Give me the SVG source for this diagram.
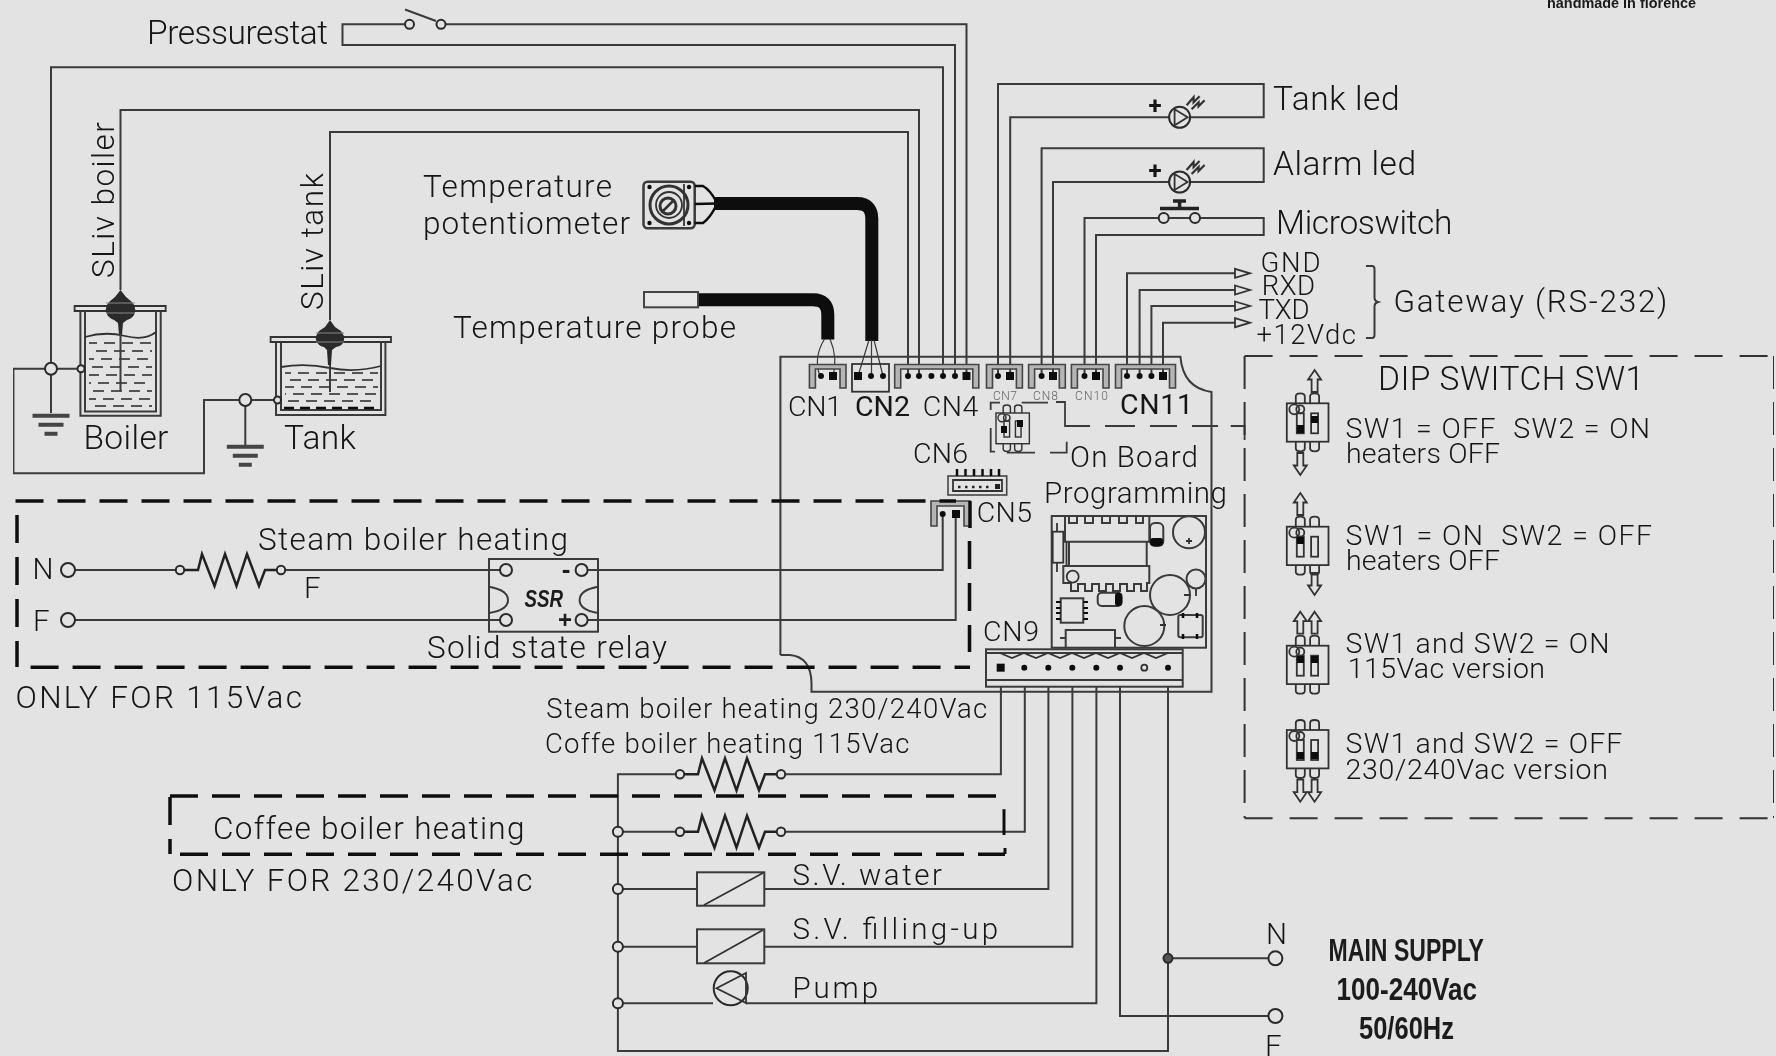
<svg xmlns="http://www.w3.org/2000/svg" width="1776" height="1056" viewBox="0 0 1776 1056">
<style>
text{font-family:Roboto,"Liberation Sans",Arial,sans-serif;font-weight:300;fill:#141414}
.s26{font-size:27.5px}.s27{font-size:28.5px}.s28{font-size:29.5px}.s30{font-size:31.5px}.s32{font-size:33.5px}
.b{font-family:"Liberation Sans",Arial,sans-serif;font-weight:bold;fill:#1a1a1a}
.w{fill:none;stroke:#3a3a3a;stroke-width:2}
.l{fill:none;stroke:#333;stroke-width:1.8}
.th{fill:none;stroke:#3a3a3a;stroke-width:1.2}
.ring{fill:#e3e3e3;stroke:#2a2a2a;stroke-width:2}
.dash{fill:none;stroke:#111;stroke-width:3.5;stroke-dasharray:28 14}
.dash2{fill:none;stroke:#333;stroke-width:2;stroke-dasharray:28 17}
.conn{fill:#b5b5b5;stroke:#444;stroke-width:1.6}
.pin{fill:#111}
.cable{fill:none;stroke:#0a0a0a;stroke-width:13}
.water{fill:none;stroke:#555;stroke-width:2;stroke-dasharray:11 7}
.dark{fill:#111}
.bulb{fill:#2a2a2a}
</style>
<defs>
<filter id="soft" x="0" y="0" width="100%" height="100%"><feGaussianBlur stdDeviation="0.5"/></filter>
<g id="res"><circle class="ring" r="4.2"/><path class="w" d="M4.5 0H18L22 -16L34.500 16L45 -16L56.500 16L67 -16L79 16L85 0H96.500" style="stroke-width:2.500;stroke:#222"/><circle class="ring" cx="101" r="4.2"/></g>
<g id="ground"><path d="M-18.500 0H18.500M-12.500 9H12.500M-6.500 18H6.500" fill="none" stroke="#444" stroke-width="4"/></g>
<g id="led"><circle class="ring" r="10.500"/><path class="l" d="M-5 -8L8 0L-5 8Z"/><path class="l" d="M7 -12L14 -20L14 -15L20 -21M12 -8L19 -15L19 -11L25 -17" style="stroke-width:2.200"/></g>
<g id="dip"><path class="l" d="M9 0V-7Q9 -10 13.500 -10Q18 -10 18 -7V0M23.300 0V-7Q23.300 -10 27.800 -10Q32.300 -10 32.300 -7V0M9 38.400V45Q9 48 13.500 48Q18 48 18 45V38.400M23.300 38.400V45Q23.300 48 27.800 48Q32.300 48 32.300 45V38.400"/><rect class="l" width="41.700" height="38.400"/><circle class="l" cx="7.500" cy="6" r="5"/><circle class="l" cx="13.500" cy="6" r="4"/><rect class="l" x="10" y="10" width="7" height="20"/><rect class="l" x="24.300" y="10" width="7" height="20"/></g>
<path id="up" class="l" d="M0 0L6.500 9.500H3V22H-3V9.500H-6.500Z"/>
<path id="down" class="l" d="M0 0L-6.500 -9.500H-3V-22H3V-9.500H6.500Z"/>
<path id="arr" fill="#e3e3e3" stroke="#333" stroke-width="1.800" d="M0 -4.500L15 0L0 4.500Z"/>
</defs>
<rect width="1776" height="1056" fill="#e3e3e3"/>
<g filter="url(#soft)">
<g id="connectors">
<path class="w" d="M405 24.300H342.500V45H955V376"/>
<path class="w" d="M445 24.300H966.500V376"/>
<path class="w" d="M51 413V67.300H943V376"/>
<path class="w" d="M120.500 290V110H919V376"/>
<path class="w" d="M330 320V132H908V376"/>
<path class="w" d="M81 368.700H13.400V473.300H204V400H277.500"/>
<path class="w" d="M245.300 400V445"/>
<path class="w" d="M998 376V84H1263.700V117.300H1010.200V376"/>
<path class="w" d="M1041.600 376V148.300H1263.700V182H1053V376"/>
<path class="w" d="M1084.500 376V218H1263.700V235H1096V376"/>
<path class="w" d="M1127 376V273.300H1236M1139.600 376V290H1236M1151.400 376V306H1236M1163 376V322.700H1236"/>
<path class="w" d="M75 570H176M285 570H500M75 620H500"/>
<path class="w" d="M587 570H942.700V514M587 620H955.700V514"/>
<path class="w" d="M1000.900 686V774.300H785M1024.800 686V831.700H785"/>
<path class="w" d="M1048.400 686V889H764.300M1072.400 686V946.700H764.300"/>
<path class="w" d="M1096.400 686V1003.300H746M1120 686V1016H1268"/>
<path class="w" d="M1168 686V1051H617.900V774.300H676"/>
<path class="w" d="M617.900 831.700H676M617.900 889H697M617.900 946.700H697M617.900 1003.300H713"/>
<path class="w" d="M1168 958.300H1268"/>
<path class="cable" d="M714 203.500H857Q871.800 203.500 871.800 219V341"/>
<path class="cable" d="M698 299.700H813Q827.800 299.700 827.800 315V339.500"/>
<path class="th" d="M824.500 339Q813 358 820 376M830 339Q838 358 833 376M869 340L858 376M871.500 340V376M874 340L883 376"/>
</g>

<g id="pressurestat">
<circle class="ring" cx="409.500" cy="24.300" r="4.500"/><circle class="ring" cx="441" cy="24.300" r="4.500"/>
<path class="w" d="M405 9.500L436 21"/>
<text class="s32" x="147" y="43.500" textLength="181">Pressurestat</text>
</g>

<g id="boiler">
<path class="l" d="M74.600 306H165.700V311H74.600Z"/>
<path class="w" d="M80.400 311V415.700H160.700V311M85 311V411.600H156V311"/>
<path class="l" d="M85 337Q105 331 125 336T156 332"/>
<g class="water"><path d="M89 343H152" stroke-dashoffset="3"/><path d="M89 351H152" stroke-dashoffset="11"/><path d="M89 359H152" stroke-dashoffset="6"/><path d="M89 367H152" stroke-dashoffset="15"/><path d="M89 375H152" stroke-dashoffset="1"/><path d="M89 383H152" stroke-dashoffset="9"/><path d="M89 391H152" stroke-dashoffset="14"/><path d="M89 399H152" stroke-dashoffset="4"/><path d="M89 406H152" stroke-dashoffset="12"/></g>
<path class="bulb" d="M120.500 290L115 297L109 302Q105 307 106 312Q108 318 114 320L118 323L119 335H122L123 323L127 320Q134 318 135 312Q136 307 132 302L126 297Z"/>
<path d="M106 303H135M106 313H135" stroke="#888" stroke-width="1.200"/>
<path class="w" d="M120.500 333V391"/>
<circle class="ring" cx="51" cy="368.700" r="6"/><circle class="ring" cx="81" cy="368.700" r="3.500"/>
<use href="#ground" x="51" y="415.700"/>
<text class="s32" x="83.400" y="449" textLength="85">Boiler</text>
<text class="s30" transform="translate(113.600 278) rotate(-90)" textLength="156">SLiv boiler</text>
</g>

<g id="tank">
<path class="l" d="M270.600 337H391V342H270.600Z"/>
<path class="w" d="M276 342V415H385.400V342M281 342V410H381V342"/>
<path class="l" d="M281 367Q305 363 330 368T381 366"/>
<g class="water"><path d="M285 373H378" stroke-dashoffset="5"/><path d="M285 380H378" stroke-dashoffset="13"/><path d="M285 387H378" stroke-dashoffset="2"/><path d="M285 394H378" stroke-dashoffset="10"/><path d="M285 401H378" stroke-dashoffset="15"/></g>
<path d="M284 408H379" fill="none" stroke="#111" stroke-width="2.500" stroke-dasharray="10 6"/>
<path class="bulb" d="M330 320L325 327L319 331Q315 336 316 340Q318 346 324 347L327 350L328 365H331L332 350L336 347Q343 346 344 340Q345 336 341 331L335 327Z"/>
<path d="M316 333H344M316 342H344" stroke="#888" stroke-width="1.200"/>
<path class="w" d="M330 365V392"/>
<circle class="ring" cx="245.300" cy="400" r="6"/><circle class="ring" cx="277.500" cy="400" r="3.500"/>
<use href="#ground" x="245.300" y="446.700"/>
<text class="s32" x="284" y="449" textLength="72">Tank</text>
<text class="s30" transform="translate(323 310) rotate(-90)" textLength="137">SLiv tank</text>
</g>

<g id="potentiometer">
<rect class="w" x="643.500" y="181.700" width="51.200" height="46.600" rx="4" style="stroke-width:2.500"/>
<circle class="l" cx="669" cy="205" r="19" style="stroke-width:3"/><circle class="l" cx="669" cy="205" r="13"/><circle class="l" cx="668" cy="206" r="8" style="stroke-width:3"/>
<path class="l" d="M663 211L674 200" style="stroke-width:2.500"/>
<circle class="dark" cx="649.500" cy="187" r="2.200"/><circle class="dark" cx="689" cy="187" r="2.200"/><circle class="dark" cx="649.500" cy="223" r="2.200"/><circle class="dark" cx="689" cy="223" r="2.200"/>
<path class="l" d="M684 184V226"/>
<path class="w" d="M694.700 186H703Q710 190 716 201M694.700 223H703Q710 218 716 206M694.700 204L716 203.500" style="stroke:#111;stroke-width:2.500"/>
<text class="s30" x="423" y="196.700" textLength="189">Temperature</text>
<text class="s30" x="423" y="234" textLength="207">potentiometer</text>
</g>

<g id="temperature-probe">
<rect x="644" y="292" width="54" height="15.300" fill="#e8e8e8" stroke="#444" stroke-width="2"/>
<text class="s30" x="453" y="338" textLength="283">Temperature probe</text>
</g>

<g id="board">
<path class="w" d="M780.400 655V356.700H1180.400Q1183 388 1211.500 392V691.700H811.500V683Q811 657 790 655H780.400"/>
<path class="conn" d="M809.400 388V364.500H846V388H840V369H815.400V388Z"/>
<rect class="l" x="852" y="364" width="37" height="27.700"/>
<path class="conn" d="M894.700 388V364.500H978.800V388H972.800V369H900.700V388Z"/>
<path class="conn" d="M986.500 388V364.500H1022.400V388H1016.400V369H992.500V388Z"/>
<path class="conn" d="M1028.600 388V364.500H1065.300V388H1059.300V369H1034.600V388Z"/>
<path class="conn" d="M1071.400 388V364.500H1109V388H1103V369H1077.400V388Z"/>
<path class="conn" d="M1115.500 388V364.500H1175.500V388H1169.500V369H1121.500V388Z"/>
<path class="conn" d="M931 526V501H970V526H964V506H937V526Z"/>
<g class="pin"><circle cx="821" cy="376" r="3"/><rect x="829" y="372" width="8" height="8"/><rect x="854" y="372" width="8" height="8"/><circle cx="871" cy="376" r="3"/><circle cx="883" cy="376" r="3"/>
<circle cx="908" cy="376" r="3"/><circle cx="919" cy="376" r="3"/><circle cx="931.400" cy="376" r="3"/><circle cx="943" cy="376" r="3"/><circle cx="955" cy="376" r="3"/><rect x="962.500" y="372" width="8" height="8"/>
<circle cx="998" cy="376" r="3"/><rect x="1006" y="372" width="8" height="8"/><circle cx="1041.600" cy="376" r="3"/><rect x="1049" y="372" width="8" height="8"/><circle cx="1084.500" cy="376" r="3"/><rect x="1092" y="372" width="8" height="8"/>
<circle cx="1127" cy="376" r="3"/><circle cx="1139.600" cy="376" r="3"/><circle cx="1151.400" cy="376" r="3"/><rect x="1159" y="372" width="8" height="8"/>
<circle cx="942.700" cy="514" r="3"/><rect x="952" y="510" width="8" height="8"/></g>
<text class="s27" x="788" y="416" textLength="54">CN1</text>
<text class="s27" x="855" y="416" textLength="55" style="font-weight:400">CN2</text>
<text class="s27" x="922.700" y="416" textLength="55.600">CN4</text>
<text x="993" y="400" font-size="12" textLength="24" style="fill:#666">CN7</text>
<text x="1033" y="400" font-size="12" textLength="25" style="fill:#666">CN8</text>
<text x="1075" y="400" font-size="12" textLength="33" style="fill:#666">CN10</text>
<text class="s27" x="1120" y="414" textLength="73" style="font-weight:400">CN11</text>
<text class="s27" x="913" y="463" textLength="55">CN6</text>
<text class="s27" x="976.700" y="521.700" textLength="55.300">CN5</text>
<text class="s27" x="983" y="640.700" textLength="56">CN9</text>
<text class="s28" x="1070" y="466.700" textLength="128">On Board</text>
<text class="s28" x="1044" y="503" textLength="183">Programming</text>
<rect class="conn" x="948" y="476" width="58.700" height="19" style="fill:none"/>
<path class="l" d="M953 480H1002V491H953Z"/>
<path d="M957 469V476M965.500 469V476M974 469V476M982.500 469V476M991 469V476M999 469V476" stroke="#111" stroke-width="2.500"/>
<path d="M958 487H992" stroke="#222" stroke-width="2.500" stroke-dasharray="2.500 4.500"/><rect x="995" y="484" width="5" height="5" fill="#222"/>
<use href="#dip" transform="translate(996 413) scale(.8)"/>
<rect class="dark" x="1001" y="426" width="6" height="7"/><rect class="dark" x="1017" y="420" width="6" height="7"/>
<path class="w" d="M990.700 410V402.700H1000M1021.700 402.700H1048M1056 402H1065V426H1090M1105 426H1135M1150 426H1177M1192 426H1218M1230.700 426H1244.600V440M990.700 428V451.700H995M1006.700 452.700H1035M1050 452.700H1066.700V441.700" style="stroke-width:1.800"/>
</g>

<g id="control-board">
<rect class="w" x="1051.700" y="516" width="154.300" height="131.700"/>
<path class="w" d="M1065 541.700V516H1069V523H1077V516H1085V523H1093V516H1102V523H1110V516H1119V523H1127V516H1136V523H1143V516H1149.300V541.700ZM1069 541.700V566M1146.700 541.700V566"/>
<path class="w" d="M1063.300 566H1149.300V583H1147V591H1141V584H1134V591H1127V584H1120V591H1113V584H1106V591H1099V584H1092V591H1085V584H1078V591H1071V583H1063.300Z"/>
<circle class="l" cx="1072.700" cy="576.700" r="6"/>
<rect class="l" x="1052.700" y="531.700" width="10.600" height="31"/><path class="l" d="M1057 523V531.700M1057 562.700V572M1066.500 541.700V566"/>
<rect class="w" x="1150" y="523" width="13.300" height="23" rx="5"/><rect class="dark" x="1150" y="538" width="13.300" height="8" rx="3"/>
<circle class="w" cx="1189" cy="532.300" r="16"/><circle class="w" cx="1196" cy="579" r="9.500"/><circle class="w" cx="1170" cy="595" r="20"/><circle class="w" cx="1144.300" cy="626" r="20"/>
<path class="l" d="M1186 541H1192M1189 538V544M1184 595H1190M1160 625H1166M1196 589V596"/>
<rect class="w" x="1060.700" y="598.300" width="22.600" height="24.400"/>
<path d="M1056 602H1060.700M1056 608H1060.700M1056 613H1060.700M1056 619H1060.700M1083.300 602H1088M1083.300 608H1088M1083.300 613H1088M1083.300 619H1088" stroke="#111" stroke-width="2"/>
<rect class="w" x="1097.700" y="592.700" width="24" height="13.300" rx="4"/><rect class="dark" x="1115" y="592.700" width="7" height="13.300" rx="3"/>
<path class="w" d="M1065.700 647V630H1115V647M1060 638H1065.700M1115 638H1121"/>
<rect class="w" x="1178.300" y="615" width="24.400" height="22.300" rx="2"/><path d="M1183 613V618M1197 613V618M1183 634V639M1197 634V639" stroke="#111" stroke-width="2.500"/>
</g>

<g id="cn9">
<rect class="w" x="986" y="649.300" width="196.700" height="37.400"/>
<path class="w" d="M986 653H1182.700M986 680H1182.700" />
<path class="l" d="M1000 653L1012 658L1024 653L1036 658L1048 653L1060 658L1072 653L1084 658L1096 653L1108 658L1120 653L1132 658L1144 653L1156 658L1168 653"/>
<rect x="996.700" y="663.700" width="8" height="8" fill="#111"/>
<g class="pin"><circle cx="1024.300" cy="667.700" r="3"/><circle cx="1048.300" cy="667.700" r="3"/><circle cx="1072.300" cy="667.700" r="3"/><circle cx="1096.300" cy="667.700" r="3"/><circle cx="1120" cy="667.700" r="3"/><circle cx="1168" cy="667.700" r="3"/></g>
<circle class="l" cx="1144.300" cy="667.700" r="3"/>
</g>

<g id="tank-led">
<use href="#led" x="1179.600" y="117.300"/>
<text x="1155" y="114" font-size="24" text-anchor="middle" style="font-weight:700">+</text>
<text class="s32" x="1273" y="110" textLength="126.600">Tank led</text>
</g>
<g id="alarm-led">
<use href="#led" x="1179.600" y="182"/>
<text x="1155" y="179" font-size="24" text-anchor="middle" style="font-weight:700">+</text>
<text class="s32" x="1273" y="175" textLength="143">Alarm led</text>
</g>
<g id="microswitch">
<circle class="ring" cx="1163.700" cy="218" r="5"/><circle class="ring" cx="1195" cy="218" r="5"/>
<path d="M1160 208.500H1199M1179.600 200V208M1173 201H1186" fill="none" stroke="#222" stroke-width="3.500"/>
<text class="s32" x="1276" y="234" textLength="176.400">Microswitch</text>
</g>
<g id="gateway">
<use href="#arr" x="1235" y="273.300"/><use href="#arr" x="1235" y="290"/><use href="#arr" x="1235" y="306"/><use href="#arr" x="1235" y="322.700"/>
<text class="s26" x="1260.500" y="271.700" textLength="60">GND</text>
<text class="s26" x="1261.700" y="295" textLength="53.300">RXD</text>
<text class="s26" x="1258.500" y="319" textLength="51">TXD</text>
<text class="s26" x="1256.400" y="344" textLength="99.600">+12Vdc</text>
<path class="w" d="M1366 266H1372Q1374.500 266 1374.500 269V298Q1374.500 301 1378 302Q1374.500 303 1374.500 306V335Q1374.500 338 1372 338H1366"/>
<text class="s30" x="1393.500" y="311.700" textLength="273.900">Gateway (RS-232)</text>
</g>
<text class="b" x="1547" y="8" font-size="14" textLength="149" lengthAdjust="spacingAndGlyphs">handmade in florence</text>

<g id="steam-only-115">
<path class="dash" d="M15.500 501H956"/><path class="dash" d="M970 501V528" style="stroke-dasharray:none"/><path class="dash" d="M969.500 541V652"/><path class="dash" d="M17 515V667"/><path class="dash" d="M30.600 667.300H970"/>
<circle class="ring" cx="68" cy="570" r="7"/><circle class="ring" cx="68" cy="620" r="7"/>
<text class="s28" x="32.600" y="579.300" textLength="19">N</text>
<text class="s28" x="33" y="630.700" textLength="15">F</text>
<use href="#res" x="180" y="570"/>
<text class="s30" x="258" y="550" textLength="310">Steam boiler heating</text>
<text class="s28" x="304" y="598" textLength="13.500">F</text>
<rect class="w" x="489" y="559" width="109" height="72.700"/>
<path class="w" d="M489 586.700Q508 590 508 600Q508 610 489 613M598 586.700Q579.600 590 579.600 600Q579.600 610 598 613"/>
<circle class="ring" cx="506" cy="570" r="6"/><circle class="ring" cx="581.600" cy="570" r="6"/><circle class="ring" cx="506" cy="620" r="6"/><circle class="ring" cx="581.600" cy="620" r="6"/>
<text class="b" x="524.500" y="606.700" font-size="24" font-style="italic" textLength="38.500" lengthAdjust="spacingAndGlyphs">SSR</text>
<text class="b" x="566" y="578" font-size="26" text-anchor="middle">-</text>
<text class="b" x="565" y="628" font-size="24" text-anchor="middle">+</text>
<text class="s30" x="427" y="658" textLength="240">Solid state relay</text>
<text class="s30" x="15.500" y="708.300" textLength="286.500">ONLY FOR 115Vac</text>
</g>

<g id="heating">
<text class="s26" x="546.300" y="718.300" textLength="441">Steam boiler heating 230/240Vac</text>
<text class="s26" x="545" y="752.700" textLength="364.500">Coffe boiler heating 115Vac</text>
<use href="#res" x="680" y="774.300"/>
</g>
<g id="coffee-only-230">
<path class="dash" d="M170 796H1003"/><path class="dash" d="M180 854.300H1005"/><path class="dash" d="M170 797V854"/>
<path d="M1004 809.300V835M1005 848V854" stroke="#111" stroke-width="3" fill="none"/>
<use href="#res" x="680" y="831.700"/>
<text class="s30" x="213" y="839" textLength="311.500">Coffee boiler heating</text>
<text class="s30" x="172" y="891" textLength="360.400">ONLY FOR 230/240Vac</text>
</g>
<g id="sv-water">
<rect class="w" x="697" y="872.300" width="67.300" height="33.400"/><path class="l" d="M704 905L763 873"/>
<text class="s28" x="792.500" y="885" textLength="149.500">S.V. water</text>
</g>
<g id="sv-filling">
<rect class="w" x="697" y="929.300" width="67.300" height="34"/><path class="l" d="M704 963L763 930"/>
<text class="s28" x="792.500" y="939" textLength="205.500">S.V. filling-up</text>
</g>
<g id="pump">
<circle class="ring" cx="730.700" cy="988.300" r="17"/><path class="l" d="M716.500 988.300L746 973V1003Z"/>
<text class="s28" x="792.500" y="997.700" textLength="85.500">Pump</text>
</g>
<g id="junctions">
<circle class="ring" cx="617.900" cy="831.700" r="5"/><circle class="ring" cx="617.900" cy="889" r="5"/><circle class="ring" cx="617.900" cy="946.700" r="5"/><circle class="ring" cx="617.900" cy="1003.300" r="5"/><circle class="ring" cx="1168" cy="958.300" r="4.500" style="fill:#555"/>
</g>
<g id="main-supply">
<circle class="ring" cx="1275.400" cy="958.300" r="7"/><circle class="ring" cx="1275.400" cy="1016" r="7"/>
<text class="s28" x="1266" y="944" textLength="22">N</text>
<text class="s28" x="1265" y="1056" textLength="15">F</text>
<text class="s30 b" x="1328.600" y="960.500" textLength="155.400" lengthAdjust="spacingAndGlyphs">MAIN SUPPLY</text>
<text class="s30 b" x="1336.600" y="1000" textLength="140.400" lengthAdjust="spacingAndGlyphs">100-240Vac</text>
<text class="s30 b" x="1359" y="1038.600" textLength="95" lengthAdjust="spacingAndGlyphs">50/60Hz</text>
</g>

<g id="dip-switch">
<path class="dash2" d="M1244.600 356H1774M1244.600 818.300H1774"/>
<path class="dash2" d="M1244.600 356V818M1774 356V818" style="stroke-dasharray:33 13"/>
<text class="s32" x="1378" y="390" textLength="266">DIP SWITCH SW1</text>
<use href="#dip" x="1286.800" y="403.300"/><rect class="dark" x="1297" y="425" width="7" height="8"/><rect class="dark" x="1311" y="416" width="7" height="7"/>
<use href="#up" x="1314.600" y="370"/><use href="#down" x="1300.300" y="475"/>
<text class="s27" x="1345.600" y="438.300" textLength="304.400" xml:space="preserve">SW1 = OFF  SW2 = ON</text>
<text class="s27" x="1346" y="463" textLength="154">heaters OFF</text>
<use href="#dip" x="1286.800" y="526.700"/><rect class="dark" x="1297" y="537" width="7" height="7"/>
<use href="#up" x="1300.300" y="493"/><use href="#down" x="1314.600" y="595"/>
<text class="s27" x="1345.600" y="545" textLength="306.400" xml:space="preserve">SW1 = ON  SW2 = OFF</text>
<text class="s27" x="1346" y="570" textLength="154">heaters OFF</text>
<use href="#dip" x="1286.800" y="645.700"/><rect class="dark" x="1297" y="656" width="7" height="7"/><rect class="dark" x="1311" y="656" width="7" height="7"/>
<use href="#up" x="1300.300" y="611.700"/><use href="#up" x="1314.600" y="611.700"/>
<text class="s27" x="1345.600" y="653" textLength="263.900">SW1 and SW2 = ON</text>
<text class="s27" x="1347.700" y="678" textLength="197.300">115Vac version</text>
<use href="#dip" x="1286.800" y="730"/><rect class="dark" x="1297" y="752" width="7" height="7"/><rect class="dark" x="1311" y="752" width="7" height="7"/>
<use href="#down" x="1300.300" y="801.700"/><use href="#down" x="1314.600" y="801.700"/>
<text class="s27" x="1345.600" y="752.700" textLength="276.800">SW1 and SW2 = OFF</text>
<text class="s27" x="1345.600" y="779" textLength="262.200">230/240Vac version</text>
</g>
</g>
</svg>
